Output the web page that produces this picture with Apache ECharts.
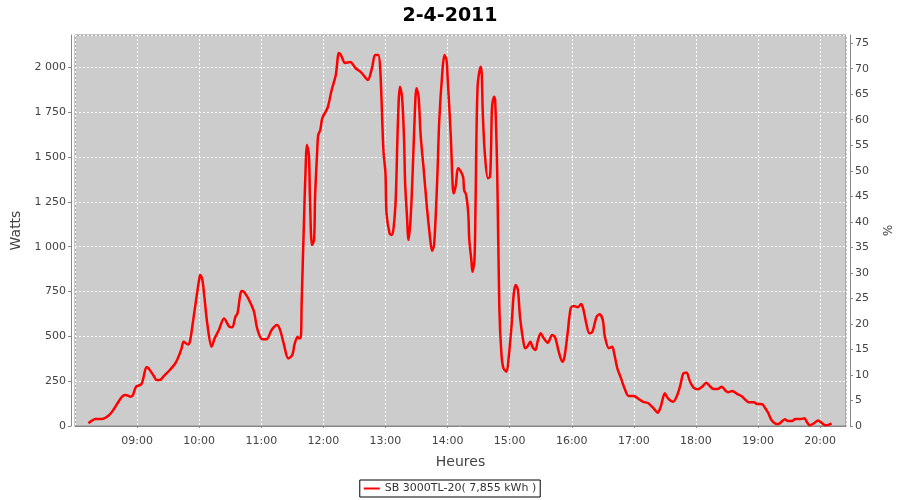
<!DOCTYPE html>
<html>
<head>
<meta charset="utf-8">
<script src="https://cdn.jsdelivr.net/npm/echarts@6/dist/echarts.min.js"></script>
<style>html,body{margin:0;padding:0;background:#fff}#c{width:900px;height:500px}</style>
</head>
<body>
<div id="c"></div>
<script>
// Time of each sample (minutes since midnight) and power (W)
var minutes = [493,500,506,513,517,522,526,529,534,536,539,544,546,549,551,556,559,562,566,571,577,580,583,585,589,591,594,597,600,601,603,605,608,612,615,619,624,629,632,635,637,641,643,646,649,653,656,661,665,670,675,678,682,686,690,692,695,696,698,699,701,703,704,706,707,709,711,712,714,715,717,719,724,728,732,735,737,741,746,751,756,761,763,767,770,773,775,778,780,781,784,786,788,790,792,794,796,798,799,801,802,804,806,808,810,812,814,817,820,823,825,827,830,832,835,837,839,840,843,845,846,848,850,852,855,856,858,860,861,863,864,866,867,869,872,873,874,876,879,881,882,883,885,886,888,890,892,894,897,899,902,904,906,908,910,913,915,917,920,922,925,927,930,933,937,941,944,947,951,953,956,959,962,966,969,971,974,977,980,984,987,990,992,996,999,1001,1004,1007,1011,1015,1020,1025,1029,1034,1039,1043,1046,1050,1053,1058,1062,1065,1068,1071,1074,1078,1082,1086,1090,1093,1097,1101,1105,1108,1111,1115,1120,1124,1128,1131,1136,1139,1144,1147,1150,1153,1158,1161,1166,1169,1173,1176,1181,1185,1187,1190,1194,1198,1202,1205,1208,1211];
var watts = [15,39,39,61,89,135,167,173,163,173,219,232,266,327,322,280,256,256,280,308,350,386,433,470,455,470,581,702,818,842,818,721,563,442,489,535,600,554,550,609,628,753,749,725,693,637,545,483,483,535,563,539,452,377,396,452,498,489,489,684,1093,1465,1567,1511,1278,1009,1037,1278,1529,1622,1650,1717,1773,1873,1957,2079,2068,2024,2029,1996,1974,1940,1929,1996,2068,2068,1985,1539,1409,1186,1074,1065,1111,1278,1688,1892,1836,1594,1353,1148,1037,1130,1371,1688,1883,1836,1622,1427,1223,1055,976,1009,1371,1706,1975,2068,2040,1947,1632,1334,1297,1344,1437,1427,1390,1316,1288,1186,1037,925,860,925,1223,1892,2003,1966,1752,1520,1381,1390,1539,1780,1836,1817,1409,665,405,322,303,377,573,740,786,758,609,479,433,442,470,442,424,470,517,489,464,507,494,424,358,386,517,656,669,662,680,656,573,517,526,609,623,591,498,433,442,405,322,275,210,167,167,149,135,127,99,74,108,182,154,135,173,229,294,297,251,212,205,219,241,225,206,206,219,201,188,195,178,167,145,132,132,123,121,99,71,33,11,15,37,28,28,39,39,43,24,4,15,30,15,4,6,15];
var seriesName = 'SB 3000TL-20( 7,855 kWh )';
var chartTitle = '2-4-2011';

var points = minutes.map(function (m, i) { return [m, watts[i]]; });
function pad(n) { return (n < 10 ? '0' : '') + n; }

var font = 'DejaVu Sans';
var chart = echarts.init(document.getElementById('c'), null, {renderer: 'canvas'});
chart.setOption({
  animation: false,
  backgroundColor: '#ffffff',
  textStyle: {fontFamily: font},
  title: {
    text: chartTitle, left: 'center', top: 2,
    textStyle: {fontFamily: font, fontSize: 19, fontWeight: 'bold', color: '#000'}
  },
  grid: {
    left: 75, right: 54, top: 35, bottom: 74,
    show: true, backgroundColor: '#cccccc', borderColor: '#888888', borderWidth: 1
  },
  legend: {
    bottom: 3, left: 'center',
    data: [seriesName],
    icon: 'rect', itemWidth: 16, itemHeight: 2, itemGap: 4,
    borderColor: '#000', borderWidth: 1, padding: [3, 4, 3, 4], borderRadius: 0,
    textStyle: {fontFamily: font, fontSize: 11, color: '#333'}
  },
  xAxis: {
    type: 'value', min: 480, max: 1225, interval: 60,
    offset: 4,
    name: 'Heures', nameLocation: 'middle', nameGap: 25,
    nameTextStyle: {fontFamily: font, fontSize: 14, color: '#444'},
    axisLine: {show: true, lineStyle: {color: '#888888'}},
    axisTick: {show: true, length: 2, lineStyle: {color: '#888888'}},
    axisLabel: {
      showMinLabel: false, showMaxLabel: false, margin: 6,
      fontFamily: font, fontSize: 11, color: '#444',
      formatter: function (v) { return pad(Math.floor(v / 60)) + ':' + pad(v % 60); }
    },
    splitLine: {show: true, lineStyle: {color: '#ffffff', type: [2, 2], width: 1}}
  },
  yAxis: [{
    type: 'value', min: 0, max: 2180, interval: 250,
    offset: 4,
    name: 'Watts', nameLocation: 'middle', nameGap: 44, nameRotate: 90,
    nameTextStyle: {fontFamily: font, fontSize: 14, color: '#444'},
    axisLine: {show: true, lineStyle: {color: '#888888'}},
    axisTick: {show: true, length: 3, lineStyle: {color: '#888888'}},
    axisLabel: {
      showMaxLabel: false, margin: 5, fontFamily: font, fontSize: 11, color: '#444',
      formatter: function (v) { return String(v).replace(/\B(?=(\d{3})+(?!\d))/g, ' '); }
    },
    splitLine: {show: true, lineStyle: {color: '#ffffff', type: [2, 2], width: 1}}
  }, {
    type: 'value', min: 0, max: 76.6, interval: 5, position: 'right',
    offset: 4,
    name: '%', nameLocation: 'middle', nameGap: 18, nameRotate: -90,
    nameTextStyle: {fontFamily: font, fontSize: 12, color: '#444'},
    axisLine: {show: true, lineStyle: {color: '#888888'}},
    axisTick: {show: true, length: 3, lineStyle: {color: '#888888'}},
    axisLabel: {showMaxLabel: false, margin: 5, fontFamily: font, fontSize: 11, color: '#444'},
    splitLine: {show: false}
  }],
  series: [{
    name: seriesName, type: 'line', data: points,
    xAxisIndex: 0, yAxisIndex: 0,
    smooth: 0.3, showSymbol: false,
    lineStyle: {color: '#ff0000', width: 2.5},
    itemStyle: {color: '#ff0000'}
  }]
});
</script>
</body>
</html>
